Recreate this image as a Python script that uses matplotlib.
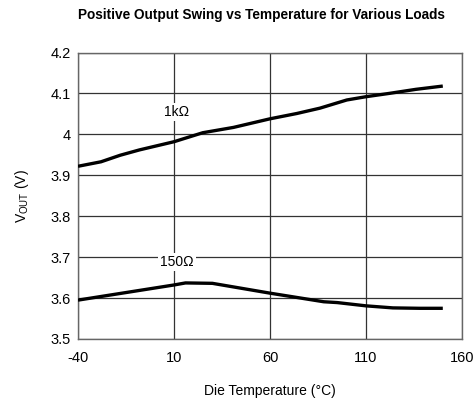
import matplotlib
matplotlib.use("Agg")
import matplotlib.pyplot as plt

plt.rcParams["font.family"] = ["Liberation Sans Narrow", "Liberation Sans", "DejaVu Sans"]
plt.rcParams["axes.unicode_minus"] = False

# Die temperature (°C) and positive output swing (V) for each load
temp_1k = [-40, -28, -18, -8, 10, 25, 41, 60, 74, 86, 100, 110, 122, 136, 150]
vout_1k = [3.922, 3.933, 3.949, 3.962, 3.982, 4.004, 4.017, 4.038, 4.051, 4.064,
           4.084, 4.092, 4.100, 4.110, 4.118]

temp_150 = [-40, 10, 16, 30, 60, 88, 95, 110, 124, 138, 150]
vout_150 = [3.595, 3.632, 3.637, 3.636, 3.612, 3.591, 3.589, 3.581, 3.576, 3.575, 3.575]

x_ticks = [-40, 10, 60, 110, 160]
y_ticks = [3.5, 3.6, 3.7, 3.8, 3.9, 4.0, 4.1, 4.2]
y_tick_labels = ["3.5", "3.6", "3.7", "3.8", "3.9", "4", "4.1", "4.2"]

fig = plt.figure(figsize=(4.73, 4.0), dpi=100)
ax = fig.add_axes([78 / 473, 1 - 339 / 400, (462 - 78) / 473, (339 - 52.5) / 400])

ax.plot(temp_1k, vout_1k, color="black", lw=2.4, solid_capstyle="butt", zorder=3)
ax.plot(temp_150, vout_150, color="black", lw=2.4, solid_capstyle="butt", zorder=3)

label_box = dict(facecolor="white", edgecolor="none", pad=1.5)
ax.text(11.5, 4.055, "1kΩ", ha="center", va="center", fontsize=10, bbox=label_box, zorder=4)
ax.text(11.5, 3.689, "150Ω", ha="center", va="center", fontsize=10, bbox=label_box, zorder=4)

ax.set_xlim(-40, 160)
ax.set_ylim(3.5, 4.2)
ax.set_xticks(x_ticks)
ax.set_yticks(y_ticks)
ax.set_yticklabels(y_tick_labels)
ax.tick_params(length=0, labelsize=10.5)
ax.tick_params(axis="x", pad=9)
ax.tick_params(axis="y", pad=5)
ax.grid(True, color="#333333", lw=0.9)
ax.set_axisbelow(True)
for spine in ax.spines.values():
    spine.set_color("#666666")
    spine.set_linewidth(1.0)

ax.set_xlabel("Die Temperature (°C)", fontsize=10, labelpad=13)
ax.set_ylabel("V$_{\\mathregular{OUT}}$ (V)", fontsize=10, labelpad=14)
fig.text(261.5 / 473, 1 - 15 / 400, "Positive Output Swing vs Temperature for Various Loads",
         ha="center", va="center", fontsize=9.8, fontweight="bold")

fig.savefig("out.png", dpi=100)
